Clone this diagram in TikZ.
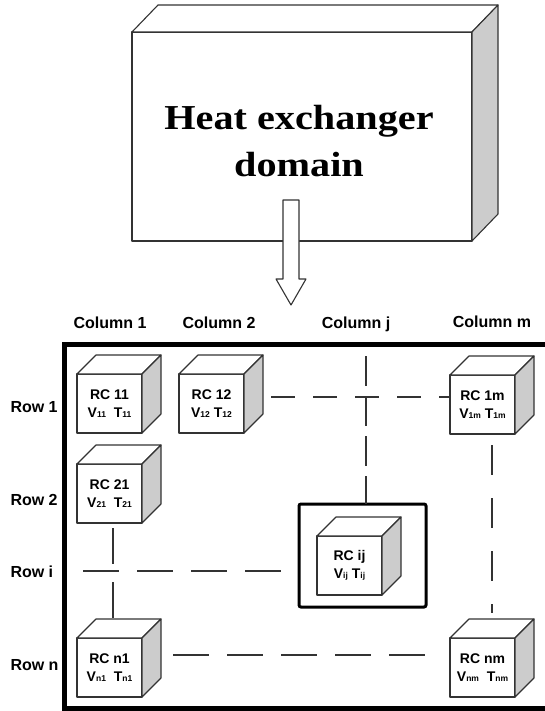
\documentclass[tikz,border=0pt]{standalone}
\usepackage{fontspec}
\setmainfont{Liberation Sans}
\newfontfamily\titlefont[FakeStretch=1.15]{Liberation Serif}
\usetikzlibrary{positioning,calc}

\definecolor{sidegray}{HTML}{CCCCCC}
\definecolor{edgegray}{HTML}{333333}

\tikzset{
  cubeedge/.style={draw=edgegray,line width=1.1pt,line join=round},
  rcfront/.style={cubeedge,fill=white,anchor=north west,minimum width=65pt,
    minimum height=59pt,inner sep=0pt,outer sep=0pt,align=center,
    font=\fontsize{14}{18}\selectfont\bfseries},
  link/.style={draw=edgegray,line width=1.1pt,dash pattern=on 36pt off 18pt},
  axislabel/.style={font=\fontsize{16}{16}\selectfont\bfseries,anchor=base},
  titletext/.style={align=center,font=\titlefont\bfseries\fontsize{35}{47}\selectfont},
}

% small index after V and T
\newcommand{\idx}[1]{{\fontsize{8.5}{8.5}\selectfont #1}}
% one resistance-capacitance cube: name, front top-left corner, two lines
\newcommand{\rccube}[4]{%
  \node[rcfront] (#1) at (#2) {#3\\#4};
  \draw[cubeedge,fill=white] (#1.north west) -- ++(19,-19) -- ++(65,0) -- (#1.north east) -- cycle;
  \draw[cubeedge,fill=sidegray] (#1.north east) -- ++(19,-19) -- ++(0,59) -- (#1.south east) -- cycle;
}

\begin{document}
\begin{tikzpicture}[x=1pt,y=-1pt]
  \useasboundingbox (0,0) rectangle (544,711);

  % domain block
  \node[cubeedge,fill=white,anchor=north west,minimum width=340pt,minimum height=209pt,outer sep=0pt] (hx) at (132,32) {};
  \draw[cubeedge,fill=white] (hx.north west) -- ++(26,-27) -- ++(340,0) -- (hx.north east) -- cycle;
  \draw[cubeedge,fill=sidegray] (hx.north east) -- ++(26,-27) -- ++(0,209) -- (hx.south east) -- cycle;
  \node[titletext] (title) at (299,141) {Heat exchanger\\domain};

  % block arrow down to the grid
  \coordinate (tip) at (291,305);
  \draw[cubeedge,fill=white] (tip) -- ++(-15,-26) -- ++(7,0) -- ++(0,-79) -- ++(16,0)
    -- ++(0,79) -- ++(7,0) -- cycle;

  % grid frame
  \draw[line width=5pt] (64.5,344) rectangle (552,708);

  \node[axislabel] (col1) at (110,328) {Column 1};
  \node[axislabel] (col2) at (219,328) {Column 2};
  \node[axislabel] (colj) at (356,328) {Column j};
  \node[axislabel] (colm) at (492,327) {Column m};

  \node[axislabel,anchor=base west] (row1) at (7,412) {Row 1};
  \node[axislabel,anchor=base west] (row2) at (7,505) {Row 2};
  \node[axislabel,anchor=base west] (rowi) at (7,577) {Row i};
  \node[axislabel,anchor=base west] (rown) at (7,670) {Row n};

  \node[draw=black,line width=3pt,rounded corners=2pt,anchor=north west,minimum width=127pt,
    minimum height=103pt,outer sep=0pt] (ijbox) at (299,504) {};

  % cubes
  \rccube{rc11}{77,374}{RC 11}{V\idx{11}\ \ T\idx{11}}
  \rccube{rc12}{179,374}{RC 12}{V\idx{12} T\idx{12}}
  \rccube{rc1m}{450,375}{RC 1m}{V\idx{1m} T\idx{1m}}
  \rccube{rc21}{77,464}{RC 21}{V\idx{21}\ \ T\idx{21}}
  \rccube{rcij}{317,536}{RC ij}{V\idx{ij} T\idx{ij}}
  \rccube{rcn1}{77,638}{RC n1}{V\idx{n1}\ \ T\idx{n1}}
  \rccube{rcnm}{450,638}{RC nm}{V\idx{nm}\ \ T\idx{nm}}

  % dashed links
  \coordinate (r1) at (271,397);
  \coordinate (cj) at (366,356);
  \coordinate (cm) at (492,445);
  \coordinate (cmend) at (492,613);
  \coordinate (c1) at (113,528);
  \coordinate (c1end) at (113,625);
  \coordinate (ri) at (83,571);
  \coordinate (rn) at (173,655);
  \coordinate (rnend) at (432,655);
  \draw[link,dash pattern=on 24pt off 18pt] (r1) -- (r1 -| rc1m.west);
  \draw[link,dash pattern=on 30pt off 10pt] (cj) -- (cj |- ijbox.north);
  \draw[link,dash pattern=on 30pt off 23pt] (cm) -- (cmend);
  \draw[link] (c1) -- (c1end);
  \draw[link] (ri) -- (ri -| ijbox.west);
  \draw[link] (rn) -- (rnend);
\end{tikzpicture}
\end{document}
